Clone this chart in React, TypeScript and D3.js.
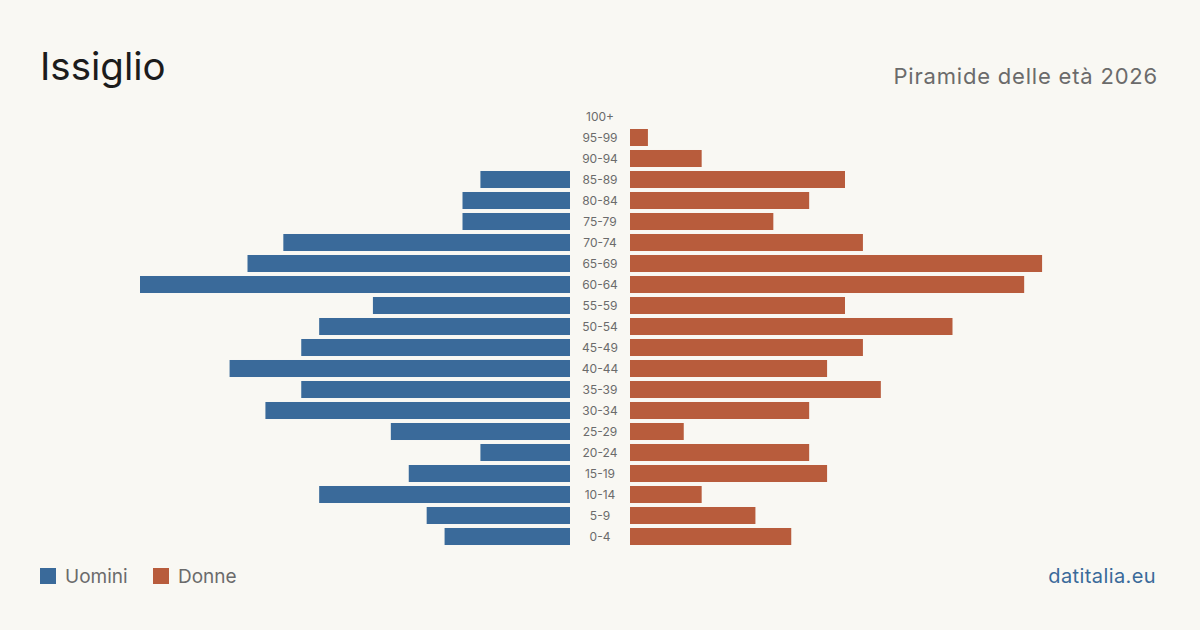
import * as d3 from 'd3'

// fasce d'età, dall'alto verso il basso
const ageGroups = [
  '100+', '95-99', '90-94', '85-89', '80-84', '75-79', '70-74', '65-69',
  '60-64', '55-59', '50-54', '45-49', '40-44', '35-39', '30-34', '25-29',
  '20-24', '15-19', '10-14', '5-9', '0-4',
]
const men = [0, 0, 0, 5, 6, 6, 16, 18, 24, 11, 14, 15, 19, 15, 17, 10, 5, 9, 14, 8, 7]
const women = [0, 1, 4, 12, 10, 8, 13, 23, 22, 12, 18, 13, 11, 14, 10, 3, 10, 11, 4, 7, 9]

const W = 1200
const H = 630
const CENTER = 600
const GAP = 30
const BLUE = '#3a6a9a'
const RED = '#b85c3c'
const FONT = 'Inter, "Noto Sans", sans-serif'

export default function App() {
  const x = d3.scaleLinear().domain([0, 24]).range([0, 430])
  const y = d3
    .scaleBand<string>()
    .domain(ageGroups)
    .range([106, 547])
    .paddingInner(0.19)
    .paddingOuter(0.095)

  return (
    <svg
      width={W}
      height={H}
      style={{ position: 'fixed', top: 0, left: 0, background: '#f9f8f3' }}
      fontFamily={FONT}
    >
      <rect width={W} height={H} fill="#f9f8f3" />
      <text x={40} y={80} fontSize={38.5} fill="#1c1c1c">
        Issiglio
      </text>
      <text
        x={1158}
        y={84}
        fontSize={22}
        fill="#6b6b6b"
        textAnchor="end"
        letterSpacing={0.8}
      >
        Piramide delle età 2026
      </text>

      {ageGroups.map((g, i) => (
        <g key={g}>
          {men[i] > 0 && (
            <rect
              x={CENTER - GAP - x(men[i])}
              y={y(g)}
              width={x(men[i])}
              height={y.bandwidth()}
              fill={BLUE}
            />
          )}
          {women[i] > 0 && (
            <rect
              x={CENTER + GAP}
              y={y(g)}
              width={x(women[i])}
              height={y.bandwidth()}
              fill={RED}
            />
          )}
          <text
            x={CENTER}
            y={(y(g) ?? 0) + y.bandwidth() / 2}
            dy="0.35em"
            fontSize={12}
            fill="#6b6b6b"
            textAnchor="middle"
          >
            {g}
          </text>
        </g>
      ))}

      <rect x={40} y={568} width={16} height={16} fill={BLUE} />
      <text x={65} y={583} fontSize={19} fill="#6b6b6b">
        Uomini
      </text>
      <rect x={153} y={568} width={16} height={16} fill={RED} />
      <text x={178} y={583} fontSize={19} fill="#6b6b6b">
        Donne
      </text>

      <text
        x={1156}
        y={583}
        fontSize={20}
        fill={BLUE}
        textAnchor="end"
        letterSpacing={0.4}
      >
        datitalia.eu
      </text>
    </svg>
  )
}
